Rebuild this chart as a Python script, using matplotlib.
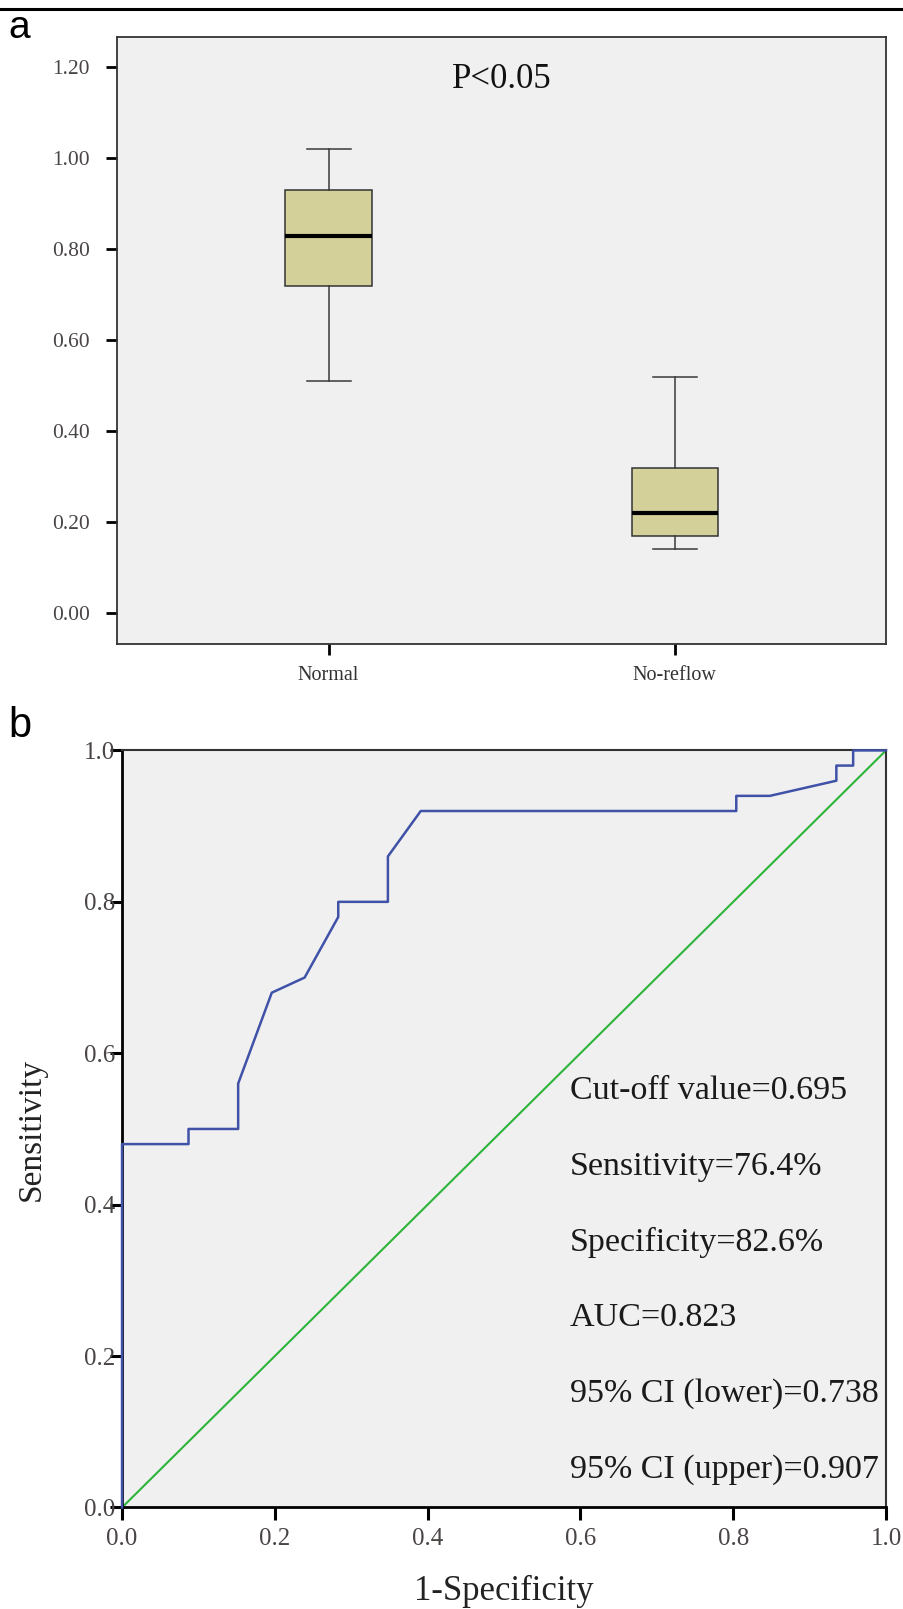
import numpy as np
import matplotlib
matplotlib.use('Agg')
import matplotlib.pyplot as plt
from matplotlib.lines import Line2D

# panel a: box plot summaries
groups = ['Normal', 'No-reflow']
whisker_lo = [0.51, 0.14]
q1 = [0.72, 0.17]
medians = [0.83, 0.22]
q3 = [0.93, 0.32]
whisker_hi = [1.02, 0.52]
box_yticks = [0.0, 0.2, 0.4, 0.6, 0.8, 1.0, 1.2]

# panel b: ROC curve (1-specificity, sensitivity)
roc_fpr = [0.0, 0.0, 0.087, 0.087, 0.152, 0.152, 0.196, 0.239, 0.283, 0.283,
           0.348, 0.348, 0.391, 0.804, 0.804, 0.848, 0.935, 0.935, 0.957,
           0.957, 1.0]
roc_tpr = [0.0, 0.48, 0.48, 0.50, 0.50, 0.56, 0.68, 0.70, 0.78, 0.80,
           0.80, 0.86, 0.92, 0.92, 0.94, 0.94, 0.96, 0.98, 0.98,
           1.0, 1.0]
roc_ticks = [0.0, 0.2, 0.4, 0.6, 0.8, 1.0]
roc_notes = ['Cut-off value=0.695', 'Sensitivity=76.4%', 'Specificity=82.6%',
             'AUC=0.823', '95% CI (lower)=0.738', '95% CI (upper)=0.907']

SERIF = 'Liberation Serif'
BG = '#f0f0f0'
TICKC = '#4a4545'

fig = plt.figure(figsize=(9.04, 16.09), dpi=100)

# rule along the top of the figure
fig.add_artist(Line2D([0, 1], [1 - 9 / 1609, 1 - 9 / 1609],
                      transform=fig.transFigure, color='black', lw=2.2))
fig.text(8 / 904, 1 - 28 / 1609, 'a', family='Liberation Sans', fontsize=28,
         va='center', ha='left')
fig.text(8 / 904, 1 - 726 / 1609, 'b', family='Liberation Sans', fontsize=30,
         va='center', ha='left')

# ---------- panel a ----------
ax1 = fig.add_axes([0.1298, 0.6000, 0.8503, 0.3772])
ax1.set_facecolor(BG)
stats = []
for i, g in enumerate(groups):
    stats.append(dict(label=g, whislo=whisker_lo[i], q1=q1[i], med=medians[i],
                      q3=q3[i], whishi=whisker_hi[i], fliers=[]))
ax1.bxp(stats, positions=[0, 1], widths=0.25, patch_artist=True,
        showfliers=False, capwidths=0.127,
        boxprops=dict(facecolor='#d4d09a', edgecolor='#333333', lw=1.1),
        medianprops=dict(color='black', lw=3.0),
        whiskerprops=dict(color='#3a3a3a', lw=1.1),
        capprops=dict(color='#3a3a3a', lw=1.1))
ax1.set_xlim(-0.61, 1.61)
ax1.set_ylim(-0.067, 1.267)
ax1.set_yticks(box_yticks)
ax1.set_yticklabels(['%.2f' % v for v in box_yticks])
ax1.set_xticks([0, 1])
ax1.set_xticklabels(groups)
ax1.tick_params(axis='y', direction='out', length=8, width=2, pad=12,
                labelsize=15.5, colors='black')
ax1.tick_params(axis='x', direction='out', length=8, width=2, pad=8,
                labelsize=14.5, colors='black')
for lab in ax1.get_yticklabels():
    lab.set_family(SERIF)
    lab.set_color(TICKC)
for lab in ax1.get_xticklabels():
    lab.set_family(SERIF)
    lab.set_color('#333333')
for s in ax1.spines.values():
    s.set_color('#333333')
    s.set_linewidth(1.3)
ax1.text(0.5, 1.172, 'P<0.05', family=SERIF, fontsize=25, ha='center',
         va='center', color='#111111')

# ---------- panel b ----------
ax2 = fig.add_axes([0.1350, 0.0631, 0.8451, 0.4705])
ax2.set_facecolor(BG)
ax2.plot([0, 1], [0, 1], color='#2db43a', lw=1.5, zorder=2)
ax2.plot(roc_fpr, roc_tpr, color='#3f52a8', lw=1.8, zorder=3, clip_on=False)
ax2.set_xlim(0, 1)
ax2.set_ylim(0, 1)
ax2.set_xticks(roc_ticks)
ax2.set_yticks(roc_ticks)
ax2.set_xticklabels(['%.1f' % v for v in roc_ticks])
ax2.set_yticklabels(['%.1f' % v for v in roc_ticks])
ax2.tick_params(axis='both', direction='out', length=9, width=2.2,
                labelsize=18, colors='black')
ax2.tick_params(axis='y', pad=-4)
ax2.tick_params(axis='x', pad=6)
for lab in ax2.get_xticklabels() + ax2.get_yticklabels():
    lab.set_family(SERIF)
    lab.set_color(TICKC)
for side in ['left', 'bottom']:
    ax2.spines[side].set_color('black')
    ax2.spines[side].set_linewidth(2)
for side in ['top', 'right']:
    ax2.spines[side].set_color('#333333')
    ax2.spines[side].set_linewidth(1.5)
ax2.set_ylabel('Sensitivity', family=SERIF, fontsize=24, color='#222222',
               labelpad=27)
ax2.set_xlabel('1-Specificity', family=SERIF, fontsize=25, color='#222222',
               labelpad=18)
note_y = [0.55, 0.45, 0.35, 0.25, 0.15, 0.05]
for t, y in zip(roc_notes, note_y):
    ax2.text(0.586, y, t, family=SERIF, fontsize=24.5, ha='left', va='center',
             color='#1a1a1a')

fig.savefig('out.png', dpi=100, facecolor='white')
